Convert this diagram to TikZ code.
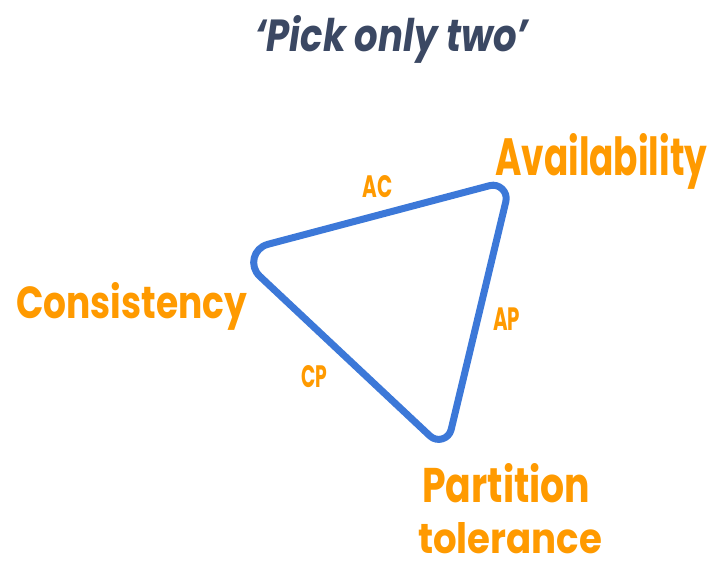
\documentclass[tikz,border=0pt]{standalone}
\usepackage{fontspec}
\usepackage{graphicx}
\usetikzlibrary{calc}
\setmainfont{Poppins}
\definecolor{capor}{HTML}{FF9A00}
\definecolor{capblue}{HTML}{3C78D8}
\definecolor{titlec}{HTML}{3B4863}
\tikzset{
  lbl/.style={inner sep=0pt, anchor=base west, text=capor, font=\bfseries},
  ttl/.style={inner sep=0pt, anchor=base west, text=titlec, font=\bfseries\itshape},
  tri/.style={draw=capblue, line width=5.25pt, line join=round, line cap=round}
}
\newcommand{\fitwh}[3]{\resizebox{#1}{#2}{\fontsize{30}{36}\selectfont #3}}
\begin{document}
\begin{tikzpicture}[x=0.75pt,y=-0.75pt]
\useasboundingbox (0,0) rectangle (711,565);
\node[ttl] (title) at (255,51) {\fitwh{204.75pt}{27pt}{‘Pick only two’}};
% triangle vertices (centre line) and rounded corners
\coordinate (L) at (235,253);
\coordinate (T) at (511,180);
\coordinate (B) at (446,451);
\coordinate (L1) at ($(L)!25.5pt!(T)$);
\coordinate (L2) at ($(L)!25.5pt!(B)$);
\coordinate (T1) at ($(T)!16.5pt!(L)$);
\coordinate (T2) at ($(T)!16.5pt!(B)$);
\coordinate (B1) at ($(B)!16.5pt!(T)$);
\coordinate (B2) at ($(B)!16.5pt!(L)$);
\draw[tri] (L1) -- (T1)
  .. controls ($(T1)!0.444!(T)$) and ($(T2)!0.444!(T)$) .. (T2) -- (B1)
  .. controls ($(B1)!0.444!(B)$) and ($(B2)!0.444!(B)$) .. (B2) -- (L2)
  .. controls ($(L2)!0.444!(L)$) and ($(L1)!0.444!(L)$) .. (L1) -- cycle;
\node[lbl] (avail) at (495,175) {\fitwh{159pt}{31.5pt}{Availability}};
\node[lbl] (cons) at (16,318) {\fitwh{173.25pt}{27pt}{Consistency}};
\node[lbl] (part) at (422,502) {\fitwh{126pt}{29.25pt}{Partition}};
\node[lbl] (tol) at (418,553) {\fitwh{138pt}{23.25pt}{tolerance}};
\node[lbl] (ac) at (362,197) {\fitwh{22.5pt}{16.5pt}{AC}};
\node[lbl] (ap) at (493,330) {\fitwh{20.25pt}{17pt}{AP}};
\node[lbl] (cp) at (301,387) {\fitwh{19.5pt}{16.5pt}{CP}};
\end{tikzpicture}
\end{document}
